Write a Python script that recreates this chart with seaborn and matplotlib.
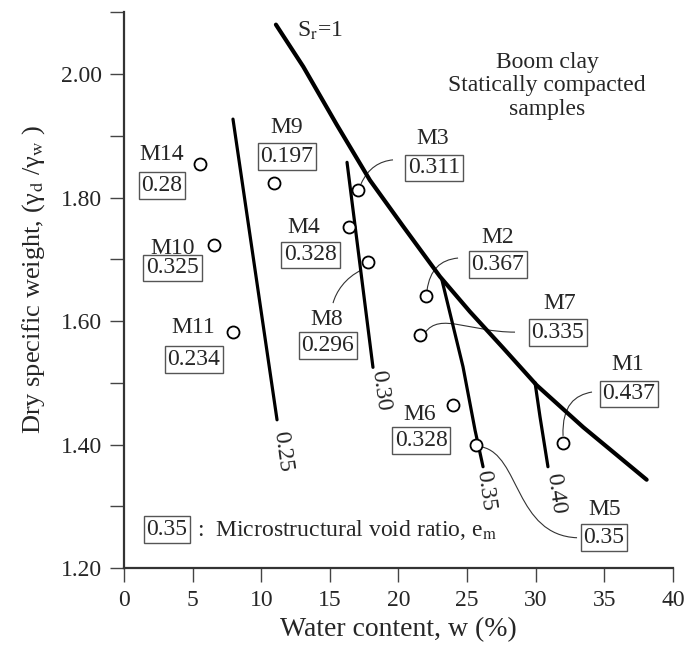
import numpy as np
import pandas as pd
import matplotlib
matplotlib.use("Agg")
import matplotlib.pyplot as plt
from matplotlib.path import Path
from matplotlib.patches import PathPatch
import seaborn as sns

# --- sample data: water content (%), dry specific weight, microstructural void ratio
samples = ["M1", "M2", "M3", "M4", "M5", "M6", "M7", "M8", "M9", "M10", "M11", "M14"]
water = [31.99, 22.0, 17.05, 16.39, 25.65, 23.97, 21.57, 17.78, 10.93, 6.56, 7.94, 5.54]
dry_weight = [1.402, 1.640, 1.812, 1.752, 1.399, 1.464, 1.577, 1.696, 1.823, 1.723, 1.582, 1.854]
void_ratio = [0.437, 0.367, 0.311, 0.328, 0.35, 0.328, 0.335, 0.296, 0.197, 0.325, 0.234, 0.28]

# --- saturation line Sr = 1
sat_w = [11.07, 13.06, 15.50, 17.92, 20.35, 23.02, 25.21, 27.64, 30.07, 33.46, 38.08]
sat_gd = [2.080, 2.012, 1.918, 1.828, 1.753, 1.672, 1.615, 1.556, 1.496, 1.428, 1.343]

# --- iso-lines of microstructural void ratio
iso_labels = ["0.25", "0.30", "0.35", "0.40"]
iso_w = [[7.94, 11.15], [16.25, 18.14], [23.17, 24.70, 25.58, 26.16], [29.95, 30.31, 30.89]]
iso_gd = [[1.927, 1.440], [1.857, 1.525], [1.666, 1.526, 1.423, 1.364], [1.500, 1.445, 1.364]]

# --- label layout (name position, boxed value position) per sample
name_pos = {"M1": (36.72, 1.529), "M2": (27.25, 1.736), "M3": (22.51, 1.896),
            "M4": (13.10, 1.752), "M5": (35.05, 1.294), "M6": (21.57, 1.448),
            "M7": (31.77, 1.629), "M8": (14.79, 1.602), "M9": (11.88, 1.913),
            "M10": (3.52, 1.718), "M11": (5.03, 1.589), "M14": (2.77, 1.869)}
box_pos = {"M1": (36.79, 1.482), "M2": (27.25, 1.691), "M3": (22.59, 1.848),
           "M4": (13.59, 1.707), "M5": (34.97, 1.249), "M6": (21.64, 1.406),
           "M7": (31.62, 1.581), "M8": (14.86, 1.560), "M9": (11.88, 1.866),
           "M10": (3.52, 1.686), "M11": (5.10, 1.538), "M14": (2.77, 1.820)}
iso_label_pos = [(11.52, 1.388), (18.65, 1.488), (26.30, 1.326), (31.40, 1.321)]

# leader curves (cubic Bezier: start, ctrl1, ctrl2, end)
leaders = {
    "M3": [(17.27, 1.822), (17.78, 1.848), (18.65, 1.859), (19.60, 1.861)],
    "M2": [(22.08, 1.650), (22.30, 1.683), (23.02, 1.699), (24.34, 1.702)],
    "M8": [(17.34, 1.683), (16.10, 1.670), (15.45, 1.647), (15.23, 1.629)],
    "M7": [(21.93, 1.581), (23.02, 1.615), (25.21, 1.582), (28.49, 1.582)],
    "M5": [(26.08, 1.396), (28.85, 1.383), (28.49, 1.253), (33.01, 1.249)],
    "M1": [(31.99, 1.414), (31.91, 1.464), (32.86, 1.480), (34.10, 1.485)],
}

df = pd.DataFrame({"sample": samples, "w": water, "gd": dry_weight, "em": void_ratio})

sns.set_style("ticks")
plt.rcParams["font.family"] = ["Liberation Serif", "DejaVu Serif"]
plt.rcParams["mathtext.fontset"] = "stix"

fig = plt.figure(figsize=(6.87, 6.47), dpi=100)
ax = fig.add_axes([0.1805, 0.1221, 0.7991, 0.8589])

FS = 17
box_style = dict(boxstyle="square,pad=0.12", fc="white", ec="#555555", lw=1.0)

# saturation curve
sat_df = pd.DataFrame({"w": sat_w, "gd": sat_gd})
sns.lineplot(data=sat_df, x="w", y="gd", sort=False, estimator=None,
             color="black", lw=3.0, ax=ax, zorder=3)
ax.text(12.6, 2.060, r"S$_\mathrm{r}$=1", fontsize=FS, ha="left", va="baseline")

# iso void-ratio lines
for lab, xs, ys, (tx, ty) in zip(iso_labels, iso_w, iso_gd, iso_label_pos):
    sns.lineplot(x=xs, y=ys, sort=False, estimator=None, color="black",
                 lw=2.3, ax=ax, zorder=3)
    ax.text(tx, ty, lab, fontsize=FS, rotation=-82, ha="center", va="center",
            rotation_mode="anchor")

# leader curves
for key, pts in leaders.items():
    path = Path(pts, [Path.MOVETO, Path.CURVE4, Path.CURVE4, Path.CURVE4])
    ax.add_patch(PathPatch(path, fc="none", ec="#333333", lw=0.8, zorder=2))

# samples
sns.scatterplot(data=df, x="w", y="gd", marker="o", s=75, color="white",
                edgecolor="black", linewidth=1.3, ax=ax, zorder=5, legend=False)

for s, v in zip(samples, void_ratio):
    nx, ny = name_pos[s]
    bx, by = box_pos[s]
    ax.text(nx, ny, s, fontsize=FS, ha="center", va="center")
    ax.text(bx, by, f"{v:g}", fontsize=FS, ha="center", va="center", bbox=box_style)

# explanatory texts
ax.text(30.82, 1.981, "Boom clay\nStatically compacted\nsamples", fontsize=FS,
        ha="center", va="center", linespacing=1.15)
ax.text(3.13, 1.262, "0.35", fontsize=FS, ha="center", va="center", bbox=box_style)
ax.text(5.3, 1.262, r":  Microstructural void ratio, e$_\mathrm{m}$", fontsize=FS,
        ha="left", va="center")

# axes
ax.set_xlim(0, 40)
ax.set_ylim(1.2, 2.1)
ax.set_xticks(np.arange(0, 41, 5))
ax.set_yticks(np.arange(1.2, 2.01, 0.2))
ax.set_yticks([1.3, 1.5, 1.7, 1.9, 2.1], minor=True)
ax.set_yticklabels([f"{t:.2f}" for t in np.arange(1.2, 2.01, 0.2)])
ax.tick_params(axis="both", which="both", direction="out", length=10, width=1.0,
               color="#444444", labelsize=FS, pad=6)
ax.set_xlabel("Water content, w (%)", fontsize=20, labelpad=4)
ax.set_ylabel(r"Dry specific weight, (γ$_\mathrm{d}$ /γ$_\mathrm{w}$ )", fontsize=19,
              labelpad=10)
ax.yaxis.label.set_y(0.52)
for side in ("top", "right"):
    ax.spines[side].set_visible(False)
for side in ("left", "bottom"):
    ax.spines[side].set_linewidth(1.6)
    ax.spines[side].set_color("#333333")

fig.savefig("out.png", dpi=100)
